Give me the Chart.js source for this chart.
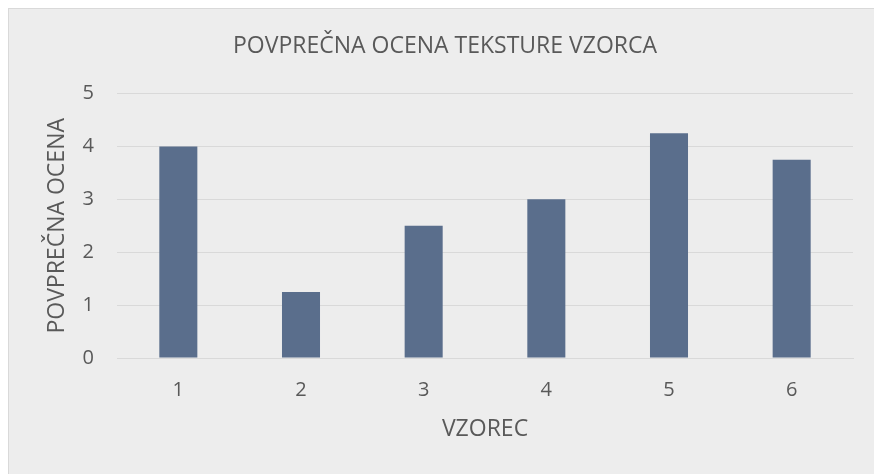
<!DOCTYPE html>
<html lang="sl">
<head>
    <meta charset="UTF-8">
    <title>Povprečna ocena teksture vzorca</title>
    <script src="https://cdn.jsdelivr.net/npm/chart.js"></script>
    <style>
        body {
            margin: 0;
            background: #ffffff;
        }
        #frame {
            position: absolute;
            left: 8px;
            top: 8px;
            width: 865px;
            height: 465px;
            background: #ededed;
            border-left: 1px solid #d9d9d9;
            border-top: 1px solid #d9d9d9;
        }
    </style>
</head>
<body>
    <div id="frame">
        <canvas id="ocenaChart" width="865" height="465"></canvas>
    </div>

    <script>
        // podatki
        const vzorci = ['1', '2', '3', '4', '5', '6'];
        const ocene = [4, 1.25, 2.5, 3, 4.25, 3.75];

        const textColor = '#595959';
        const gridColor = '#d9d9d9';
        const fontFamily = "'Open Sans', sans-serif";

        const ctx = document.getElementById('ocenaChart').getContext('2d');
        new Chart(ctx, {
            type: 'bar',
            data: {
                labels: vzorci,
                datasets: [{
                    label: 'Povprečna ocena',
                    data: ocene,
                    backgroundColor: '#5a6e8c',
                    borderWidth: 0,
                    categoryPercentage: 1,
                    barPercentage: 0.31
                }]
            },
            options: {
                responsive: false,
                animation: false,
                // levi odmik premakne naslov proti sredini celotnega grafa
                layout: { padding: { left: 28, top: 0, right: 21, bottom: 0 } },
                plugins: {
                    legend: { display: false },
                    tooltip: { enabled: false },
                    title: {
                        display: true,
                        text: 'POVPREČNA OCENA TEKSTURE VZORCA',
                        color: textColor,
                        font: { family: fontFamily, size: 23, weight: 'normal' },
                        padding: { top: 24, bottom: 33 }
                    }
                },
                scales: {
                    x: {
                        grid: { display: false, drawTicks: false },
                        border: { display: true, color: gridColor, width: 1 },
                        ticks: {
                            color: textColor,
                            padding: 20,
                            font: { family: fontFamily, size: 20 }
                        },
                        title: {
                            display: true,
                            text: 'VZOREC',
                            color: textColor,
                            font: { family: fontFamily, size: 23 },
                            padding: { top: 0, bottom: 31 }
                        },
                        afterFit: (scale) => { scale.height = 116; }
                    },
                    y: {
                        min: 0,
                        max: 5,
                        grid: { color: gridColor, lineWidth: 1, drawTicks: false },
                        border: { display: false },
                        ticks: {
                            stepSize: 1,
                            color: textColor,
                            padding: 23,
                            font: { family: fontFamily, size: 20 }
                        },
                        title: {
                            display: true,
                            text: 'POVPREČNA OCENA',
                            color: textColor,
                            font: { family: fontFamily, size: 23 },
                            padding: { top: 7, bottom: 0 }
                        },
                        afterFit: (scale) => { scale.width = 80; }
                    }
                }
            }
        });
    </script>
</body>
</html>
